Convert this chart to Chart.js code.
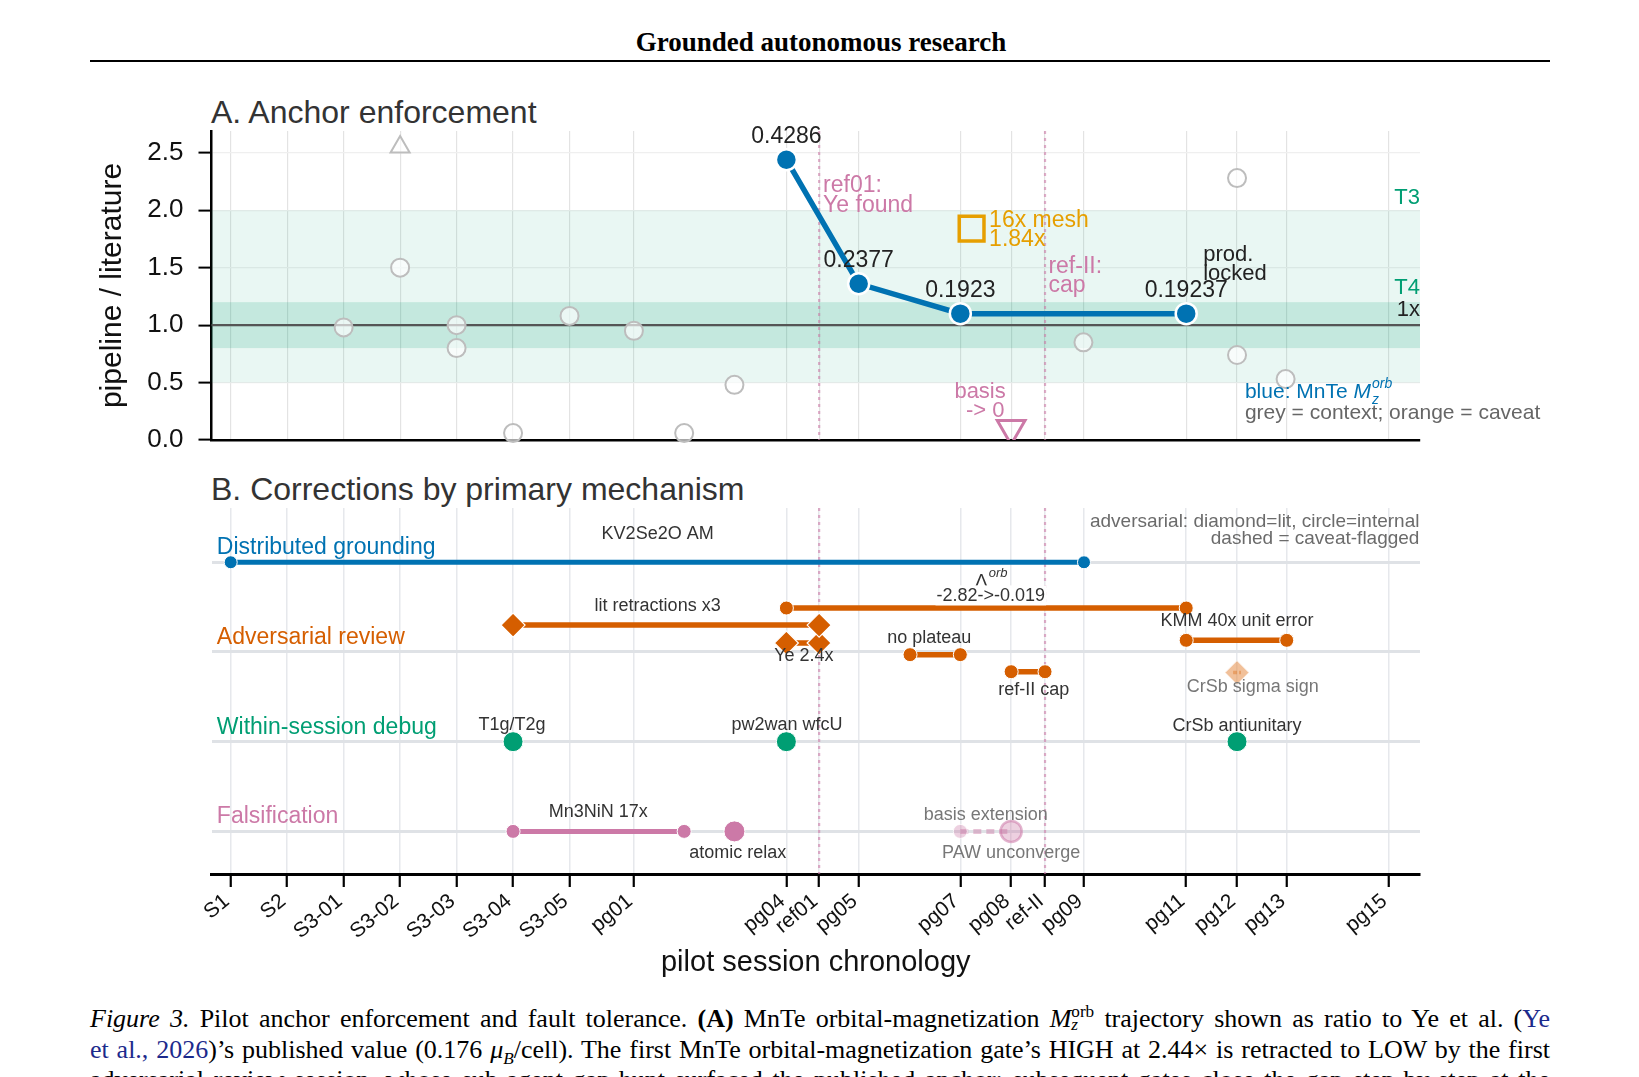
<!DOCTYPE html>
<html>
<head>
<meta charset="utf-8">
<script src="https://cdn.jsdelivr.net/npm/chart.js@4.4.1/dist/chart.umd.min.js"></script>
<style>
  html, body { margin: 0; padding: 0; background: #fff; width: 1639px; height: 1077px; overflow: hidden; }
  .abs { position: absolute; }
  #hdr { left: 90px; width: 1462px; top: 27px; text-align: center; font: bold 27px "Liberation Serif", "Times New Roman", serif; color: #000; }
  #rule { left: 90px; width: 1460px; top: 60px; height: 0; border-top: 2.6px solid #000; }
  .ptitle { left: 211px; font: 32px "Liberation Sans", Arial, sans-serif; color: #333; line-height: 1.15; }
  .cap { left: 90px; display: inline-block; white-space: nowrap; font: 26px "Liberation Serif", "Times New Roman", serif; line-height: 30px; color: #000; }
  .cite { color: #1c2a8c; }
  .msub { display: inline-block; vertical-align: -0.15em; line-height: 0.75; font-size: 0.66em; }
  .msub span { display: block; }
</style>
</head>
<body>
<div id="hdr" class="abs">Grounded autonomous research</div>
<div id="rule" class="abs"></div>
<div class="abs ptitle" style="top:94px">A. Anchor enforcement</div>
<div class="abs ptitle" style="top:471px">B. Corrections by primary mechanism</div>
<div class="abs" style="left:95px; top:126px;"><canvas id="chartA" width="1460" height="332"></canvas></div>
<div class="abs" style="left:95px; top:500px;"><canvas id="chartB" width="1345" height="480"></canvas></div>

<div class="abs cap" style="top:1004px"><i>Figure 3.</i> Pilot anchor enforcement and fault tolerance. <b>(A)</b> MnTe orbital-magnetization <i>M</i><span class="msub"><span>orb</span><span><i>z</i></span></span> trajectory shown as ratio to Ye et al. (<span class="cite">Ye</span></div>
<div class="abs cap" style="top:1035px"><span class="cite">et al., 2026</span>)’s published value (0.176 <i>μ</i><sub style="font-size:0.66em"><i>B</i></sub>/cell). The first MnTe orbital-magnetization gate’s HIGH at 2.44× is retracted to LOW by the first</div>
<div class="abs cap" style="top:1065px">adversarial review session, whose sub-agent gap-hunt surfaced the published anchor; subsequent gates close the gap step-by-step at the</div>

<script>
// session axis (shared by both panels)
const tickPos = [0, 1, 2, 3, 4, 5, 6, 7.14, 9.84, 10.42, 11.12, 12.92, 13.82, 14.42, 15.11, 16.92, 17.82, 18.7, 20.5];
const tickLabels = ['S1', 'S2', 'S3-01', 'S3-02', 'S3-03', 'S3-04', 'S3-05', 'pg01', 'pg04', 'ref01', 'pg05', 'pg07', 'pg08', 'ref-II', 'pg09', 'pg11', 'pg12', 'pg13', 'pg15'];
const refSessions = [10.42, 14.42];
const xMin = -0.34, xMax = 21.06;

// panel A: ratio pipeline / literature
const mnteX = [9.84, 11.12, 12.92, 16.92];
const mnteRatio = [2.44, 1.36, 1.10, 1.10];
const mnteLabels = ['0.4286', '0.2377', '0.1923', '0.19237'];
const contextX = [2, 3, 4, 4, 5, 6, 7.14, 8.03, 8.92, 15.1, 17.82, 17.82, 18.68];
const contextY = [0.98, 1.5, 1.0, 0.8, 0.06, 1.08, 0.95, 0.06, 0.48, 0.85, 2.28, 0.74, 0.53];
const contextHighX = [3];
const contextHighY = [2.55];
const meshX = [13.12];
const meshY = [1.84];
const basisX = [13.82];
const basisY = [0.1];
const bandT3 = [0.5, 2.0];
const bandT4 = [0.8, 1.2];
const anchorRatio = 1.0;
const yTicksA = [0, 0.5, 1.0, 1.5, 2.0, 2.5];

// panel B: corrections by mechanism (rows: 0 falsification .. 3 distributed grounding)
const groundingSpan = [0, 15.11];
const litSpans = [[5, 10.42, 2.30], [9.84, 10.42, 2.10]];
const internalSpans = [[9.84, 16.92, 2.49], [12.03, 12.92, 1.97], [13.82, 14.42, 1.78], [16.92, 18.7, 2.13]];
const caveatLitX = [17.82];
const caveatLitY = [1.77];
const debugX = [5, 9.84, 17.82];
const falsSpan = [5, 8.03];
const falsBigX = [8.92];
const falsCaveatSpan = [12.92, 13.82];

const BLUE = '#0072B2', ORANGE = '#D55E00', GREEN = '#009E73', PINK = '#CC79A7', YELLOW = '#E69F00';
const FONT = '"Liberation Sans", Arial, sans-serif';

Chart.defaults.font.family = FONT;
Chart.defaults.color = '#222';

// text labels, in data coordinates
const notesA = [
  {x: 10.49, y: 2.21, t: 'ref01:', c: PINK, s: 23, a: 'left'},
  {x: 10.49, y: 2.04, t: 'Ye found', c: PINK, s: 23, a: 'left'},
  {x: 13.43, y: 1.91, t: '16x mesh', c: YELLOW, s: 23, a: 'left'},
  {x: 13.43, y: 1.74, t: '1.84x', c: YELLOW, s: 23, a: 'left'},
  {x: 14.48, y: 1.51, t: 'ref-II:', c: PINK, s: 23, a: 'left'},
  {x: 14.48, y: 1.34, t: 'cap', c: PINK, s: 23, a: 'left'},
  {x: 17.22, y: 1.61, t: 'prod.', c: '#222', s: 22, a: 'left'},
  {x: 17.22, y: 1.45, t: 'locked', c: '#222', s: 22, a: 'left'},
  {x: 13.27, y: 0.42, t: 'basis', c: PINK, s: 22},
  {x: 13.36, y: 0.25, t: '-> 0', c: PINK, s: 22},
  {x: 21.06, y: 2.11, t: 'T3', c: GREEN, s: 22, a: 'right'},
  {x: 21.06, y: 1.32, t: 'T4', c: GREEN, s: 22, a: 'right'},
  {x: 21.06, y: 1.13, t: '1x', c: '#222', s: 22, a: 'right'},
  {x: 17.96, y: 0.235, t: 'grey = context; orange = caveat', c: '#666', s: 21, a: 'left'}
];
const notesB = [
  {x: -0.245, y: 3.16, t: 'Distributed grounding', c: BLUE, s: 23, a: 'left'},
  {x: -0.245, y: 2.16, t: 'Adversarial review', c: ORANGE, s: 23, a: 'left'},
  {x: -0.245, y: 1.16, t: 'Within-session debug', c: GREEN, s: 23, a: 'left'},
  {x: -0.245, y: 0.16, t: 'Falsification', c: PINK, s: 23, a: 'left'},
  {x: 7.56, y: 3.31, t: 'KV2Se2O AM', c: '#333', s: 18},
  {x: 7.56, y: 2.51, t: 'lit retractions x3', c: '#333', s: 18},
  {x: 10.15, y: 1.96, t: 'Ye 2.4x', c: '#333', s: 18},
  {x: 12.37, y: 2.15, t: 'no plateau', c: '#333', s: 18},
  {x: 14.22, y: 1.58, t: 'ref-II cap', c: '#333', s: 18},
  {x: 17.82, y: 2.34, t: 'KMM 40x unit error', c: '#333', s: 18},
  {x: 18.1, y: 1.61, t: 'CrSb sigma sign', c: '#777', s: 18},
  {x: 4.98, y: 1.19, t: 'T1g/T2g', c: '#333', s: 18},
  {x: 9.85, y: 1.19, t: 'pw2wan wfcU', c: '#333', s: 18},
  {x: 17.82, y: 1.17, t: 'CrSb antiunitary', c: '#333', s: 18},
  {x: 6.51, y: 0.22, t: 'Mn3NiN 17x', c: '#333', s: 18},
  {x: 8.98, y: -0.24, t: 'atomic relax', c: '#333', s: 18},
  {x: 13.37, y: 0.18, t: 'basis extension', c: '#777', s: 18},
  {x: 13.82, y: -0.24, t: 'PAW unconverge', c: '#777', s: 18},
  {x: 21.05, y: 3.45, t: 'adversarial: diamond=lit, circle=internal', c: '#6b6b6b', s: 19, a: 'right'},
  {x: 21.05, y: 3.26, t: 'dashed = caveat-flagged', c: '#6b6b6b', s: 19, a: 'right'}
];

function drawNotes(chart, notes) {
  const {ctx, scales: {x, y}} = chart;
  ctx.save();
  ctx.textBaseline = 'middle';
  notes.forEach(n => {
    ctx.font = n.s + 'px ' + FONT;
    ctx.fillStyle = n.c;
    ctx.textAlign = n.a || 'center';
    ctx.fillText(n.t, x.getPixelForValue(n.x), y.getPixelForValue(n.y));
  });
  ctx.restore();
}

const refLines = {
  id: 'refLines',
  beforeDatasetsDraw(chart) {
    const {ctx, chartArea: a, scales: {x}} = chart;
    ctx.save();
    ctx.strokeStyle = 'rgba(204,121,167,0.6)';
    ctx.lineWidth = 2.2;
    ctx.setLineDash([3, 4]);
    refSessions.forEach(v => {
      const px = x.getPixelForValue(v);
      ctx.beginPath();
      ctx.moveTo(px, a.top);
      ctx.lineTo(px, a.bottom);
      ctx.stroke();
    });
    ctx.restore();
  }
};

const bandsA = {
  id: 'bandsA',
  beforeDatasetsDraw(chart) {
    const {ctx, chartArea: a, scales: {y}} = chart;
    ctx.save();
    ctx.fillStyle = 'rgba(0,158,115,0.085)';
    let top = y.getPixelForValue(bandT3[1]), bot = y.getPixelForValue(bandT3[0]);
    ctx.fillRect(a.left, top, a.right - a.left, bot - top);
    ctx.fillStyle = 'rgba(0,158,115,0.16)';
    top = y.getPixelForValue(bandT4[1]); bot = y.getPixelForValue(bandT4[0]);
    ctx.fillRect(a.left, top, a.right - a.left, bot - top);
    const p1 = y.getPixelForValue(anchorRatio);
    ctx.strokeStyle = '#555';
    ctx.lineWidth = 2.2;
    ctx.beginPath();
    ctx.moveTo(a.left, p1);
    ctx.lineTo(a.right, p1);
    ctx.stroke();
    ctx.restore();
  }
};

const labelsA = {
  id: 'labelsA',
  afterDatasetsDraw(chart) {
    const {ctx, scales: {x, y}} = chart;
    drawNotes(chart, notesA);
    ctx.save();
    ctx.textBaseline = 'middle';
    ctx.textAlign = 'center';
    ctx.fillStyle = '#222';
    ctx.font = '23px ' + FONT;
    mnteX.forEach((v, i) => {
      ctx.fillText(mnteLabels[i], x.getPixelForValue(v), y.getPixelForValue(mnteRatio[i]) - 23);
    });
    // blue: MnTe M_z^orb
    const px = x.getPixelForValue(17.96), py = y.getPixelForValue(0.42);
    ctx.textAlign = 'left';
    ctx.fillStyle = BLUE;
    ctx.font = '21px ' + FONT;
    const s = 'blue: MnTe ';
    ctx.fillText(s, px, py);
    let w = ctx.measureText(s).width;
    ctx.font = 'italic 21px ' + FONT;
    ctx.fillText('M', px + w, py);
    w += ctx.measureText('M').width + 1;
    ctx.font = 'italic 14px ' + FONT;
    ctx.fillText('orb', px + w, py - 8);
    ctx.fillText('z', px + w, py + 8);
    ctx.restore();
  }
};

const labelsB = {
  id: 'labelsB',
  afterDatasetsDraw(chart) {
    const {ctx, scales: {x, y}} = chart;
    drawNotes(chart, notesB);
    ctx.save();
    ctx.textBaseline = 'middle';
    const cx = x.getPixelForValue(13.46);
    // Lambda^orb
    ctx.font = '19px ' + FONT;
    const wl = ctx.measureText('Λ').width;
    ctx.font = 'italic 13px ' + FONT;
    const wo = ctx.measureText('orb').width;
    const ly = y.getPixelForValue(2.81);
    ctx.fillStyle = '#333';
    ctx.textAlign = 'left';
    ctx.font = '19px ' + FONT;
    ctx.fillText('Λ', cx - (wl + wo) / 2, ly + 2);
    ctx.font = 'italic 13px ' + FONT;
    ctx.fillText('orb', cx - (wl + wo) / 2 + wl + 1, ly - 6);
    // value change with white box
    ctx.font = '18px ' + FONT;
    ctx.textAlign = 'center';
    const t = '-2.82->-0.019';
    const tw = ctx.measureText(t).width;
    const ty = y.getPixelForValue(2.62);
    ctx.fillStyle = '#fff';
    ctx.fillRect(cx - tw / 2 - 1, ty - 11, tw + 2, 20);
    ctx.fillStyle = '#333';
    ctx.fillText(t, cx, ty);
    ctx.restore();
  }
};

const pts = (xs, ys) => xs.map((v, i) => ({x: v, y: ys[i]}));

// ---------------- panel A
new Chart(document.getElementById('chartA'), {
  type: 'scatter',
  data: {
    datasets: [
      {data: pts(contextX, contextY), pointStyle: 'circle', pointRadius: 9, pointBackgroundColor: 'rgba(255,255,255,0.65)', pointBorderColor: '#bdbdbd', pointBorderWidth: 2, clip: false},
      {data: pts(contextHighX, contextHighY), pointStyle: 'triangle', pointRadius: 11, pointBackgroundColor: 'rgba(255,255,255,0.6)', pointBorderColor: '#bdbdbd', pointBorderWidth: 2, clip: false},
      {data: pts(mnteX, mnteRatio), showLine: true, borderColor: BLUE, borderWidth: 5.5, pointStyle: 'circle', pointRadius: 10.5, pointBackgroundColor: BLUE, pointBorderColor: '#fff', pointBorderWidth: 2.5, clip: false},
      {data: pts(meshX, meshY), pointStyle: 'rect', pointRadius: 17.5, pointBackgroundColor: 'rgba(255,255,255,0)', pointBorderColor: YELLOW, pointBorderWidth: 3.5, clip: false},
      {data: pts(basisX, basisY), pointStyle: 'triangle', pointRotation: 180, pointRadius: 16, pointBackgroundColor: 'rgba(255,255,255,0)', pointBorderColor: PINK, pointBorderWidth: 3, clip: 0}
    ]
  },
  options: {
    responsive: false,
    animation: false,
    events: [],
    layout: {autoPadding: false, padding: {top: 5, right: 135, left: 0, bottom: 0}},
    plugins: {legend: {display: false}, tooltip: {enabled: false}},
    scales: {
      x: {
        type: 'linear', min: xMin, max: xMax,
        afterBuildTicks: s => { s.ticks = tickPos.map(v => ({value: v})); },
        afterFit: s => { s.height = 18; s.paddingLeft = 0; s.paddingRight = 0; },
        ticks: {display: false},
        grid: {color: '#e3e3e3', lineWidth: 1.2, drawTicks: false},
        border: {color: '#000', width: 2.5}
      },
      y: {
        min: 0, max: 2.69,
        afterBuildTicks: s => { s.ticks = yTicksA.map(v => ({value: v})); },
        afterFit: s => { s.width = 116.5; s.paddingTop = 0; s.paddingBottom = 0; },
        ticks: {font: {size: 26}, color: '#111', padding: 15, callback: v => Number(v).toFixed(1)},
        grid: {color: '#efefef', lineWidth: 1.2, tickColor: '#000', tickLength: 13, tickWidth: 2},
        border: {color: '#000', width: 2.5},
        title: {display: true, text: 'pipeline / literature', font: {size: 30}, color: '#111', padding: 0}
      }
    }
  },
  plugins: [bandsA, refLines, labelsA]
});

// ---------------- panel B
const dsB = [];
dsB.push({data: [{x: groundingSpan[0], y: 3}, {x: groundingSpan[1], y: 3}], showLine: true, borderColor: BLUE, borderWidth: 5, pointRadius: 6.5, pointBackgroundColor: BLUE, pointBorderColor: '#fff', pointBorderWidth: 1, clip: false});
litSpans.forEach(s => dsB.push({data: [{x: s[0], y: s[2]}, {x: s[1], y: s[2]}], showLine: true, borderColor: ORANGE, borderWidth: 5.5, pointStyle: 'rectRot', pointRadius: 12, pointBackgroundColor: ORANGE, pointBorderColor: '#fff', pointBorderWidth: 1.2, clip: false}));
internalSpans.forEach(s => dsB.push({data: [{x: s[0], y: s[2]}, {x: s[1], y: s[2]}], showLine: true, borderColor: ORANGE, borderWidth: 5.5, pointStyle: 'circle', pointRadius: 7, pointBackgroundColor: ORANGE, pointBorderColor: '#fff', pointBorderWidth: 1, clip: false}));
dsB.push({data: pts(caveatLitX, caveatLitY), pointStyle: 'rectRot', pointRadius: 12, pointBackgroundColor: 'rgba(230,140,70,0.55)', pointBorderColor: 'rgba(255,255,255,0.8)', pointBorderWidth: 1, clip: false});
dsB.push({data: [{x: caveatLitX[0] - 0.07, y: caveatLitY[0]}, {x: caveatLitX[0] + 0.07, y: caveatLitY[0]}], showLine: true, borderColor: 'rgba(213,94,0,0.45)', borderWidth: 3.5, borderDash: [4, 2], pointRadius: 0, clip: false});
dsB.push({data: debugX.map(v => ({x: v, y: 1})), pointStyle: 'circle', pointRadius: 10, pointBackgroundColor: GREEN, pointBorderColor: '#fff', pointBorderWidth: 1, clip: false});
dsB.push({data: [{x: falsSpan[0], y: 0}, {x: falsSpan[1], y: 0}], showLine: true, borderColor: PINK, borderWidth: 5, pointRadius: 7, pointBackgroundColor: PINK, pointBorderColor: '#fff', pointBorderWidth: 1, clip: false});
dsB.push({data: falsBigX.map(v => ({x: v, y: 0})), pointRadius: 10.5, pointBackgroundColor: PINK, pointBorderColor: '#fff', pointBorderWidth: 1, clip: false});
dsB.push({data: [{x: falsCaveatSpan[0], y: 0}, {x: falsCaveatSpan[1], y: 0}], showLine: true, borderColor: 'rgba(204,121,167,0.45)', borderWidth: 5, borderDash: [8, 5], pointRadius: [7, 10.5], pointBackgroundColor: ['rgba(204,121,167,0.35)', 'rgba(204,121,167,0.35)'], pointBorderColor: ['rgba(255,255,255,0.8)', 'rgba(204,121,167,0.55)'], pointBorderWidth: [1, 2.5], clip: false});

new Chart(document.getElementById('chartB'), {
  type: 'scatter',
  data: {datasets: dsB},
  options: {
    responsive: false,
    animation: false,
    events: [],
    layout: {autoPadding: false, padding: {top: 8, right: 20, left: 0, bottom: 0}},
    plugins: {legend: {display: false}, tooltip: {enabled: false}},
    scales: {
      x: {
        type: 'linear', min: xMin, max: xMax,
        afterBuildTicks: s => { s.ticks = tickPos.map(v => ({value: v})); },
        afterFit: s => { s.height = 106; s.paddingLeft = 0; s.paddingRight = 0; },
        ticks: {autoSkip: false, minRotation: 40, maxRotation: 40, font: {size: 21}, color: '#111', padding: 2, labelOffset: -4, callback: (v, i) => tickLabels[i]},
        grid: {color: '#e6e8ec', lineWidth: 1.5, tickColor: '#000', tickLength: 13, tickWidth: 2.2},
        border: {color: '#000', width: 3},
        title: {display: true, text: 'pilot session chronology', font: {size: 29}, color: '#111', padding: 0}
      },
      y: {
        min: -0.475, max: 3.605,
        afterBuildTicks: s => { s.ticks = [0, 1, 2, 3].map(v => ({value: v})); },
        afterFit: s => { s.width = 116.5; s.paddingTop = 0; s.paddingBottom = 0; },
        ticks: {display: false},
        grid: {color: '#dfe2e6', lineWidth: 3, drawTicks: false},
        border: {display: false}
      }
    }
  },
  plugins: [refLines, labelsB]
});

// justify caption lines to the text block width
const capWidth = 1460;
document.querySelectorAll('.cap').forEach(el => {
  const w = el.getBoundingClientRect().width;
  const n = (el.textContent.match(/ /g) || []).length;
  if (n) el.style.wordSpacing = ((capWidth - w) / n) + 'px';
});
</script>
</body>
</html>
